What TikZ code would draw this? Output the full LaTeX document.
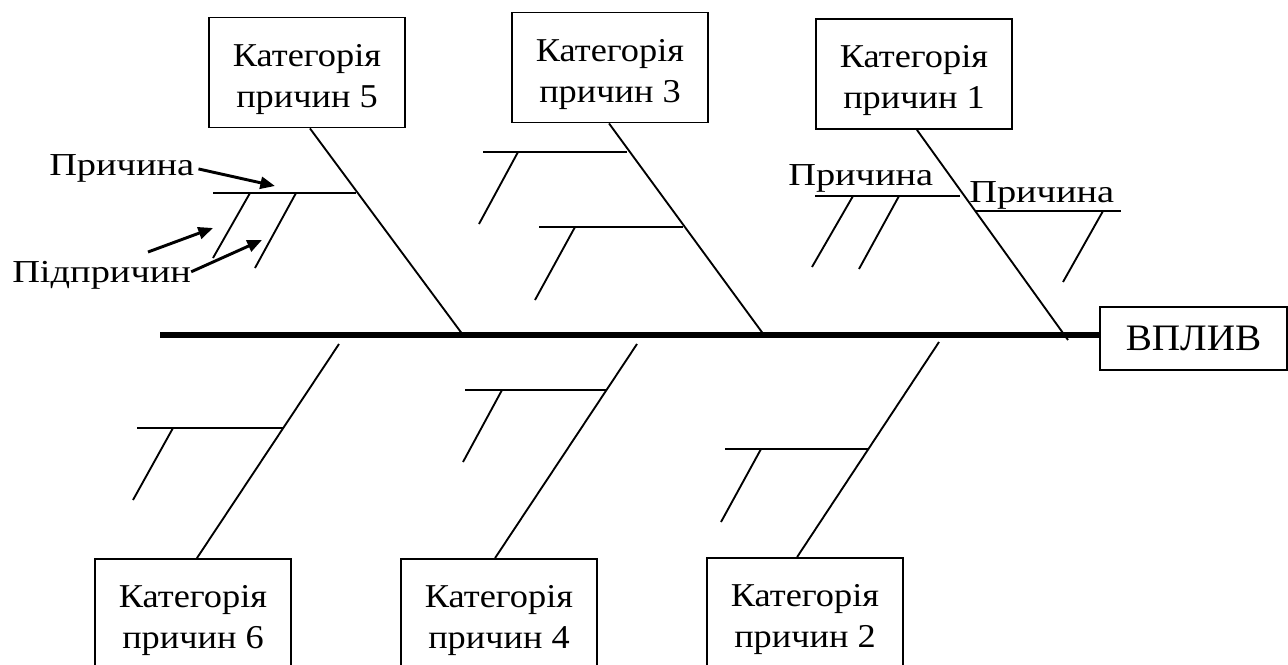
\documentclass[tikz,border=0pt]{standalone}
\usepackage{fontspec}
\setmainfont{Liberation Serif}
\newfontfamily\boxfont{Liberation Serif}[FakeStretch=1.09]
\newfontfamily\labfont{Liberation Serif}[FakeStretch=1.2]
\newfontfamily\efffont{Liberation Serif}[FakeStretch=1.05]
\usetikzlibrary{arrows.meta,calc}
\begin{document}
\begin{tikzpicture}[x=0.75pt,y=-0.75pt,
  cat/.style={draw, line width=1.4pt, minimum width=147pt, minimum height=82.5pt,
    align=center, inner sep=0pt, font=\boxfont\fontsize{25}{30.75}\selectfont},
  effbox/.style={draw, line width=1.4pt, minimum width=140pt, minimum height=47pt,
    inner sep=0pt, font=\efffont\fontsize{28}{32}\selectfont},
  bone/.style={line width=1.4pt},
  spine/.style={line width=3.8pt},
  lab/.style={inner sep=0pt, anchor=base west, font=\labfont\fontsize{24}{28}\selectfont},
  arr/.style={line width=2.2pt, -{Triangle[length=11pt,width=9pt]}}]
\useasboundingbox (0,0) rectangle (1288,664);
% category boxes
\node[cat] (c5) at (307,72.5) {\rule{0pt}{27pt}Категорія\\причин 5};
\node[cat] (c3) at (610,67.5) {\rule{0pt}{27pt}Категорія\\причин 3};
\node[cat] (c1) at (914,74) {\rule{0pt}{27pt}Категорія\\причин 1};
\node[cat] (c6) at (193,614) {\rule{0pt}{27pt}Категорія\\причин 6};
\node[cat] (c4) at (499,614) {\rule{0pt}{27pt}Категорія\\причин 4};
\node[cat] (c2) at (805,613) {\rule{0pt}{27pt}Категорія\\причин 2};
\node[effbox] (eff) at (1193.5,338.5) {ВПЛИВ};
% spine
\coordinate (tail) at (160,335);
\draw[spine] (tail) -- (tail -| eff.west);
% main bones
\coordinate (s5) at (463,335);
\coordinate (s3) at (764,335);
\coordinate (s1) at (1068,340);
\coordinate (s6) at (339,344);
\coordinate (s4) at (637,344);
\coordinate (s2) at (939,342);
\draw[bone] ($(c5.south west)!0.515!(c5.south east)$) -- (s5);
\draw[bone] ($(c3.south west)!0.495!(c3.south east)$) -- (s3);
\draw[bone] ($(c1.south west)!0.515!(c1.south east)$) -- (s1);
\draw[bone] ($(c6.north west)!0.52!(c6.north east)$) -- (s6);
\draw[bone] ($(c4.north west)!0.48!(c4.north east)$) -- (s4);
\draw[bone] ($(c2.north west)!0.46!(c2.north east)$) -- (s2);
% category 5 branches
\draw[bone] (213,193) -- (356,193);
\draw[bone] (250,193) -- (213,258);
\draw[bone] (296,193) -- (255,268);
% category 3 branches
\draw[bone] (483,152) -- (627,152);
\draw[bone] (518,152) -- (479,224);
\draw[bone] (539,227) -- (683,227);
\draw[bone] (575,227) -- (535,300);
% category 1 branches
\draw[bone] (815,196) -- (960,196);
\draw[bone] (853,196) -- (812,267);
\draw[bone] (899,196) -- (859,269);
\draw[bone] (975,211) -- (1121,211);
\draw[bone] (1103,211) -- (1063,282);
% category 6 branches
\draw[bone] (137,428) -- (283,428);
\draw[bone] (173,428) -- (133,500);
% category 4 branches
\draw[bone] (465,390) -- (607,390);
\draw[bone] (502,390) -- (463,462);
% category 2 branches
\draw[bone] (725,449) -- (868,449);
\draw[bone] (761,449) -- (721,522);
% labels and arrows
\node[lab] (p5) at (49,175) {Причина};
\node[lab] (pp) at (12,282) {Підпричин};
\node[lab] (p1a) at (788,185) {Причина};
\node[lab] (p1b) at (969,202) {Причина};
\coordinate (a1) at (275,186);
\coordinate (a2s) at (148,252);
\coordinate (a2) at (213,228);
\coordinate (a3) at (262,240);
\draw[arr] (p5.east) ++(4,1) -- (a1);
\draw[arr] (a2s) -- (a2);
\draw[arr] (pp.east) ++(0,-3) -- (a3);
\end{tikzpicture}
\end{document}
